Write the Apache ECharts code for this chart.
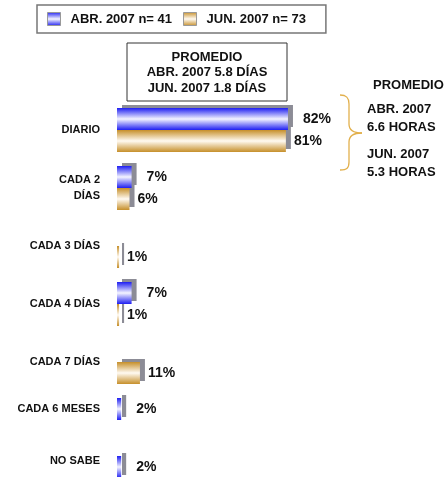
<!DOCTYPE html>
<html>
<head>
<meta charset="utf-8">
<script src="https://cdn.jsdelivr.net/npm/echarts@6/dist/echarts.min.js"></script>
<style>
  html, body { margin: 0; padding: 0; background: #fff; }
  #chart { width: 448px; height: 477px; }
</style>
</head>
<body>
<div id="chart"></div>
<script>
// categorias y porcentajes
const categories = ['DIARIO', 'CADA 2\nDÍAS', 'CADA 3 DÍAS', 'CADA 4 DÍAS', 'CADA 7 DÍAS', 'CADA 6 MESES', 'NO SABE'];
const abrValues = [82, 7, null, 7, null, 2, 2];
const junValues = [81, 6, 1, 1, 11, null, null];
const seriesNames = ['ABR. 2007 n= 41', 'JUN. 2007 n= 73'];
const promedioDias = ['PROMEDIO', 'ABR. 2007 5.8 DÍAS', 'JUN. 2007 1.8 DÍAS'];
const promedioHoras = ['PROMEDIO', 'ABR. 2007', '6.6 HORAS', 'JUN. 2007', '5.3 HORAS'];

const FONT = '"Liberation Sans", Arial, sans-serif';

function grad(edge, mid) {
  return {
    type: 'linear', x: 0, y: 0, x2: 0, y2: 1,
    colorStops: [
      { offset: 0, color: edge },
      { offset: 0.5, color: mid },
      { offset: 1, color: edge }
    ]
  };
}

// desplazamiento vertical de algunas etiquetas
const labelShift = { 'CADA 6 MESES': 's1', 'NO SABE': 's2' };

const chart = echarts.init(document.getElementById('chart'));

function barSeries(name, data, edge, mid, z, dist) {
  return {
    name: name,
    type: 'bar',
    z: z,
    data: data.map(v => v == null ? '-' : v),
    barWidth: 22,
    barGap: '0%',
    itemStyle: {
      color: grad(edge, mid),
      shadowColor: '#8c8c96',
      shadowOffsetX: 5,
      shadowOffsetY: -3,
      shadowBlur: 0
    },
    label: {
      show: true,
      position: 'right',
      distance: dist,
      formatter: '{c}%',
      color: '#111',
      fontFamily: FONT,
      fontWeight: 'bold',
      fontSize: 14
    }
  };
}

function curve(x1, y1, c1x, c1y, c2x, c2y, x2, y2) {
  return {
    type: 'bezierCurve',
    shape: { x1: x1, y1: y1, cpx1: c1x, cpy1: c1y, cpx2: c2x, cpy2: c2y, x2: x2, y2: y2 },
    style: { fill: null, stroke: '#e2b04c', lineWidth: 1.3 }
  };
}
function seg(x1, y1, x2, y2) {
  return {
    type: 'line',
    shape: { x1: x1, y1: y1, x2: x2, y2: y2 },
    style: { stroke: '#e2b04c', lineWidth: 1.3 }
  };
}

chart.setOption({
  animation: false,
  legend: {
    left: 37,
    top: 5,
    padding: [7, 20, 7, 10],
    itemGap: 11,
    itemWidth: 13,
    itemHeight: 13,
    icon: 'rect',
    borderColor: '#777',
    borderWidth: 1.5,
    itemStyle: { shadowBlur: 0, shadowOffsetX: 0, shadowOffsetY: 0, borderColor: '#999', borderWidth: 1 },
    textStyle: { fontFamily: FONT, fontWeight: 'bold', fontSize: 13, color: '#111', padding: [0, 0, 0, 5] },
    data: seriesNames
  },
  grid: { left: 117, top: 101, width: 208.5, height: 406, outerBoundsMode: 'none', containLabel: false },
  xAxis: {
    type: 'value',
    min: 0,
    max: 100,
    show: false
  },
  yAxis: {
    type: 'category',
    inverse: true,
    data: categories,
    axisLine: { show: false },
    axisTick: { show: false },
    axisLabel: {
      margin: 17,
      color: '#111',
      fontFamily: FONT,
      fontWeight: 'bold',
      fontSize: 11,
      lineHeight: 16,
      formatter: v => labelShift[v] ? '{' + labelShift[v] + '|' + v + '}' : v,
      rich: {
        s1: { fontFamily: FONT, fontWeight: 'bold', fontSize: 11, color: '#111', padding: [0, 0, 22, 0] },
        s2: { fontFamily: FONT, fontWeight: 'bold', fontSize: 11, color: '#111', padding: [0, 0, 34, 0] }
      }
    }
  },
  series: [
    barSeries(seriesNames[0], abrValues, '#1e1ef2', '#f4f4ff', 3, 15),
    barSeries(seriesNames[1], junValues, '#c68f2a', '#fffaf2', 2, 8)
  ],
  graphic: [
    {
      type: 'rect',
      shape: { x: 127, y: 43, width: 160, height: 58 },
      style: { fill: '#fff', stroke: '#333', lineWidth: 1 }
    },
    ...promedioDias.map((t, i) => ({
      type: 'text',
      x: 207,
      y: 57 + i * 15.5,
      style: { text: t, fill: '#111', font: 'bold 13px ' + FONT, align: 'center', verticalAlign: 'middle' }
    })),
    // llave
    curve(340, 95, 347, 95, 349, 98, 349, 104),
    seg(349, 104, 349, 124),
    curve(349, 124, 349, 130, 353, 133, 362, 133),
    curve(362, 133, 353, 133, 349, 136, 349, 142),
    seg(349, 142, 349, 162),
    curve(349, 162, 349, 168, 347, 170, 340, 170),
    {
      type: 'text',
      x: 373,
      y: 85,
      style: { text: promedioHoras[0], fill: '#111', font: 'bold 13px ' + FONT, verticalAlign: 'middle' }
    },
    ...[[1, 109], [2, 127], [3, 154], [4, 172]].map(p => ({
      type: 'text',
      x: 367,
      y: p[1],
      style: { text: promedioHoras[p[0]], fill: '#111', font: 'bold 13px ' + FONT, verticalAlign: 'middle' }
    }))
  ]
});
</script>
</body>
</html>
